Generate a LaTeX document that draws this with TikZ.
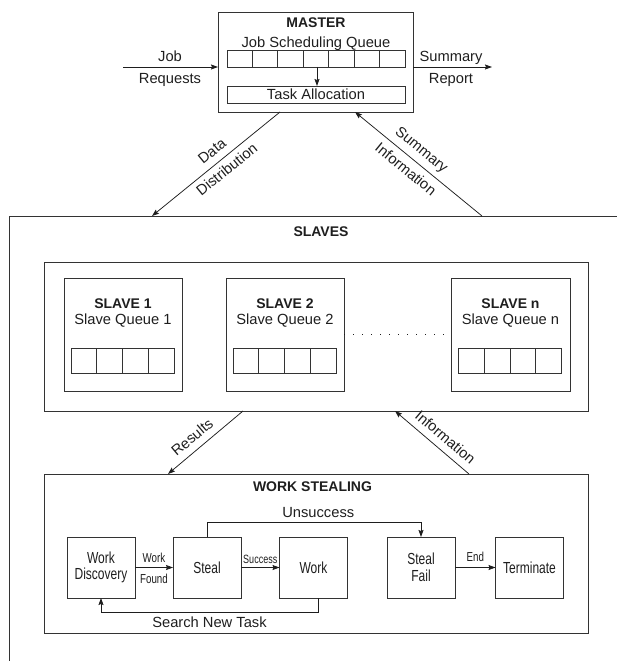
\documentclass[tikz,border=0pt]{standalone}
\usepackage{fontspec}
\setmainfont{Liberation Sans}
\newfontfamily\narrowsans[FakeStretch=0.75]{Liberation Sans}
\usetikzlibrary{arrows.meta,calc}

\definecolor{ink}{HTML}{1E1E1E}
\definecolor{edge}{HTML}{333333}

\tikzset{
  x=1pt, y=-1pt,
  frame/.style={draw=edge, line width=1pt, inner sep=0pt, outer sep=0pt},
  cellline/.style={draw=edge, line width=0.75pt},
  conn/.style={draw=ink, line width=0.75pt, -{Stealth[length=7pt,width=5pt,inset=1pt]}},
  connrev/.style={draw=ink, line width=0.75pt, {Stealth[length=7pt,width=5pt,inset=1pt]}-},
  dotline/.style={draw=ink, line width=0.75pt, dash pattern=on 1pt off 8pt},
  lbl/.style={text=ink, inner sep=0pt, font=\fontsize{14.7}{17}\selectfont},
  ttl/.style={text=ink, inner sep=0pt, font=\bfseries\fontsize{14}{16}\selectfont},
  boxtxt/.style={text=ink, inner sep=0pt, align=center, font=\narrowsans\fontsize{16}{16.5}\selectfont},
  smalltxt/.style={text=ink, inner sep=0pt, font=\narrowsans\fontsize{13}{15}\selectfont},
  stepbox/.style={frame, minimum width=68pt, minimum height=61pt},
  slavebox/.style={frame, minimum width=118pt, minimum height=113pt},
  queue4/.style={frame, line width=0.75pt, minimum width=103pt, minimum height=25pt},
}

\begin{document}
\begin{tikzpicture}
\useasboundingbox (0,0) rectangle (617,661);
\clip (0,0) rectangle (617,661);

% ---------------- master ----------------
\node[frame, minimum width=195pt, minimum height=99pt] (master) at (315.5,62.5) {};
\node[ttl, anchor=base] (mastertitle) at (316,27.5) {MASTER};
\node[lbl, anchor=base] (jsqtitle) at (316,47.5) {Job Scheduling Queue};
\node[frame, line width=0.75pt, minimum width=178pt, minimum height=17pt] (jsq) at (316,58.5) {};
\foreach \k in {1,...,6}
  \draw[cellline] ($(jsq.north west)!\k/7!(jsq.north east)$) -- ($(jsq.south west)!\k/7!(jsq.south east)$);
\node[frame, line width=0.75pt, minimum width=178pt, minimum height=17pt, lbl] (task) at (316,94.5) {Task Allocation};
\draw[conn] ($(jsq.south)+(1,0)$) -- ($(task.north)+(1,0)$);

% job requests in, summary report out
\coordinate (jobin) at (123,67);
\coordinate (repout) at (492,67);
\draw[conn] (jobin) -- (jobin -| master.west);
\draw[conn] (master.east |- repout) -- (repout);
\node[lbl, anchor=base] (jobl) at (170,62) {Job};
\node[lbl, anchor=base] (reql) at (170,84) {Requests};
\node[lbl, anchor=base] (suml) at (451,62) {Summary};
\node[lbl, anchor=base] (repl) at (451,84) {Report};

% ---------------- slaves ----------------
\node[frame, anchor=north west, minimum width=700pt, minimum height=520pt] (slaves) at (9.5,216) {};
\node[ttl, anchor=base] (slavestitle) at (321,236) {SLAVES};
\node[frame, minimum width=544pt, minimum height=149pt] (slavesin) at (316,336.5) {};

\node[slavebox] (s1) at (123,334.5) {};
\node[slavebox] (s2) at (285,334.5) {};
\node[slavebox, minimum width=119pt] (sn) at (510.5,334.5) {};

\node[ttl, anchor=base] (s1t) at (123,308.5) {SLAVE 1};
\node[lbl, anchor=base] (s1q) at (123,324.5) {Slave Queue 1};
\node[ttl, anchor=base] (s2t) at (285,308.5) {SLAVE 2};
\node[lbl, anchor=base] (s2q) at (285,324.5) {Slave Queue 2};
\node[ttl, anchor=base] (snt) at (510.5,308.5) {SLAVE n};
\node[lbl, anchor=base] (snq) at (510.5,324.5) {Slave Queue n};

\node[queue4] (q1) at (122.5,360.5) {};
\node[queue4] (q2) at (284.5,360.5) {};
\node[queue4] (qn) at (510,360.5) {};
\foreach \q in {q1,q2,qn}
  \foreach \k in {1,2,3}
    \draw[cellline] ($(\q.north west)!\k/4!(\q.north east)$) -- ($(\q.south west)!\k/4!(\q.south east)$);

\draw[dotline] (s2.east) -- (sn.west);

% master <-> slaves
\draw[connrev] ($(slaves.north west)+(142.5,0)$) --
  node[lbl, sloped, pos=0.53, above=7pt] (ddl1) {Data}
  node[lbl, sloped, pos=0.53, below=5pt] (ddl2) {Distribution}
  ($(master.south west)+(62,0)$);
\draw[connrev] ($(master.south west)+(137,0)$) --
  node[lbl, sloped, pos=0.46, above=5pt] (sil1) {Summary}
  node[lbl, sloped, pos=0.46, below=6pt] (sil2) {Information}
  ($(slaves.north west)+(472.5,0)$);

% ---------------- work stealing ----------------
\node[frame, minimum width=544pt, minimum height=159pt] (ws) at (316,553.5) {};
\node[ttl, anchor=base] (wst) at (312.5,491.5) {WORK STEALING};

\node[stepbox, boxtxt] (wd) at (101,567.5) {Work\\Discovery};
\node[stepbox, boxtxt] (steal) at (207,567.5) {Steal};
\node[stepbox, boxtxt] (work) at (313.5,567.5) {Work};
\node[stepbox, boxtxt] (fail) at (421,567.5) {Steal\\Fail};
\node[stepbox, boxtxt] (term) at (529.5,567.5) {Terminate};

\draw[conn] (wd.east) --
  node[smalltxt, above=4.5pt] (wfl1) {Work}
  node[smalltxt, below=6pt] (wfl2) {Found} (steal.west);
\draw[conn] (steal.east) -- node[smalltxt, font=\narrowsans\fontsize{12}{14}\selectfont, above=4pt] (sucl) {Success} (work.west);
\draw[conn] (fail.east) -- node[smalltxt, above=5.5pt] (endl) {End} (term.west);

\coordinate (ucorner) at ($(steal.north)+(0,-15)$);
\draw[conn] (steal.north) -- (ucorner) -| node[lbl, pos=0.26, above=4pt] (unl) {Unsuccess} (fail.north);

\coordinate (sstart) at ($(work.south)+(4.5,0)$);
\coordinate (scorner) at ($(work.south)+(4.5,14)$);
\draw[conn] (sstart) -- (scorner) -| node[lbl, pos=0.25, below=4pt] (snl) {Search New Task} (wd.south);

% slaves <-> work stealing
\draw[connrev] ($(ws.north west)+(124,0)$) --
  node[lbl, sloped, pos=0.43, above=7pt] (resl) {Results}
  ($(slavesin.south west)+(199,0)$);
\draw[connrev] ($(slavesin.south west)+(351,0)$) --
  node[lbl, sloped, pos=0.57, above=7pt] (infl) {Information}
  ($(ws.north west)+(425,0)$);
\end{tikzpicture}
\end{document}
